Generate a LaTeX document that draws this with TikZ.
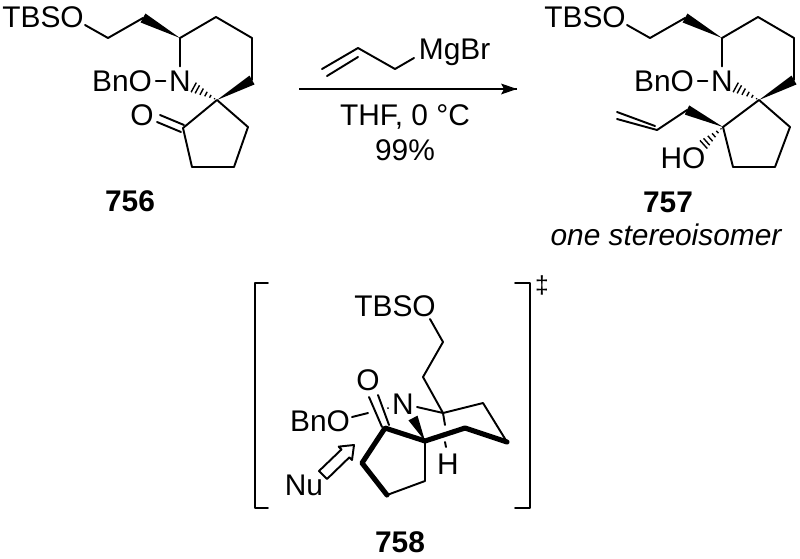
\documentclass[tikz,border=0pt]{standalone}
\usepackage{fontspec}
\setmainfont{Liberation Sans}
\usetikzlibrary{calc}
\tikzset{
	bond/.style={black,line width=1.1pt,line cap=round,line join=round},
	heavy/.style={black,line width=2.9pt,line cap=round,line join=round},
	atom/.style={inner sep=2pt,font=\fontsize{17}{20}\selectfont,text height=12.2pt,text depth=0pt},
	label/.style={inner sep=0pt,font=\fontsize{17}{20}\selectfont\bfseries},
}
\newcommand{\wedgebond}[3][2.9pt]{\fill [black] (#2) -- ($(#3)!#1!90:(#2)$) -- ($(#3)!#1!-90:(#2)$) -- cycle;}
\newcommand{\hashbond}[3][3.2pt]{
	\foreach \t in {0.1,0.28,0.46,0.64,0.82,0.97}{
		\coordinate (hh) at ($(#2)!\t!(#3)$);
		\draw [black,line width=0.8pt] ($(hh)!\t*#1!90:(#3)$) -- ($(hh)!\t*#1!-90:(#3)$);
	}
}
\newcommand{\topchain}{
	\node [atom] (tbso) at (43,-17) {TBSO};
	\node [atom] (bno) at (122,-81) {BnO};
	\node [atom] (n) at (180,-81) {N};
	\coordinate (oend) at (85,-25);
	\coordinate (c1) at (108,-38);
	\coordinate (c2) at (143,-18);
	\coordinate (c3) at (180,-38);
	\coordinate (c4) at (216,-17);
	\coordinate (c5) at (252,-38);
	\coordinate (c6) at (252,-80);
	\coordinate (spiro) at (217,-100);
	\coordinate (nhash) at (193,-87);
	\draw [bond] (oend) -- (c1) -- (c2);
	\draw [bond] (c3) -- (c4) -- (c5) -- (c6);
	\draw [bond] (c3) -- (n);
	\draw [bond] (bno) -- (n);
	\wedgebond{c3}{c2}
	\wedgebond{spiro}{c6}
	\hashbond{spiro}{nhash}
}
\begin{document}
\begin{tikzpicture}[x=0.02cm,y=0.02cm]
	\useasboundingbox (0,0) rectangle (800,-558);

	\begin{scope}[name prefix=sm-]
		\topchain
		\node [atom] (o) at (142,-115) {O};
		\coordinate (r1) at (183,-128);
		\coordinate (r2) at (192,-167);
		\coordinate (r3) at (234,-167);
		\coordinate (r4) at (248,-127);
		\coordinate (o1) at (160,-115);
		\coordinate (o2) at (184,-125);
		\coordinate (o3) at (157,-122);
		\coordinate (o4) at (181,-132);
		\draw [bond] (spiro) -- (r1) -- (r2) -- (r3) -- (r4) -- (spiro);
		\draw [bond] (o1) -- (o2);
		\draw [bond] (o3) -- (o4);
		\node [label] (lab756) at (130,-201) {756};
	\end{scope}

	\begin{scope}[shift={(542,0)},name prefix=pr-]
		\topchain
		\coordinate (r1) at (181,-127);
		\coordinate (r2) at (191,-167);
		\coordinate (r3) at (233,-167);
		\coordinate (r4) at (248,-127);
		\coordinate (a1) at (145,-110);
		\coordinate (a2) at (115,-130);
		\coordinate (a3) at (113,-126);
		\coordinate (a4) at (75,-112);
		\coordinate (a5) at (75,-119);
		\coordinate (ohash) at (161,-145);
		\node [atom] (ho) at (141,-158) {HO};
		\draw [bond] (spiro) -- (r1) -- (r2) -- (r3) -- (r4) -- (spiro);
		\draw [bond] (a1) -- (a2) -- (a5);
		\draw [bond] (a3) -- (a4);
		\wedgebond{r1}{a1}
		\hashbond{r1}{ohash}
		\node [label] (lab757) at (126,-202) {757};
		\node [inner sep=0pt,font=\fontsize{17}{20}\selectfont\itshape] (iso) at (124,-235) {one stereoisomer};
	\end{scope}

	\coordinate (arrowstart) at (299,-89);
	\coordinate (arrowend) at (517,-89);
	\draw [black,line width=1.1pt] (arrowstart) -- (arrowend);
	\fill [black] (arrowend) -- (501,-83.5) -- (504,-89) -- (501,-94.5) -- cycle;
	\node [atom,anchor=west] (mgbr) at (415,-49) {MgBr};
	\node [atom] (thf) at (405,-115) {THF, 0 °C};
	\node [atom] (yield) at (405,-150) {99\%};
	\coordinate (g1) at (322,-69);
	\coordinate (g2) at (358,-48);
	\coordinate (g3) at (395,-69);
	\coordinate (g4) at (414,-58);
	\coordinate (g5) at (327,-76);
	\coordinate (g6) at (358,-57);
	\draw [bond] (g1) -- (g2) -- (g3) -- (g4);
	\draw [bond] (g5) -- (g6);

	\draw [bond] (268,-283) -- (255,-283) -- (255,-508) -- (268,-508);
	\draw [bond] (515,-283) -- (530,-283) -- (530,-508) -- (515,-508);
	\node [inner sep=0pt,font=\fontsize{14}{16}\selectfont] (ddag) at (542,-285) {‡};

	\node [atom] (tbso) at (395,-306) {TBSO};
	\node [atom] (o) at (368,-380) {O};
	\node [atom] (n) at (403,-404) {N};
	\node [atom] (bno) at (320,-421) {BnO};
	\node [atom] (h) at (448,-464) {H};
	\node [atom] (nu) at (304,-485) {Nu};
	\node [label] (lab758) at (400,-542) {758};
	\coordinate (t1) at (430,-319);
	\coordinate (t2) at (443,-342);
	\coordinate (t3) at (423,-377);
	\coordinate (t4) at (443,-413);
	\coordinate (t5) at (483,-403);
	\coordinate (t6) at (507,-442);
	\coordinate (t7) at (465,-428);
	\coordinate (t8) at (425,-441);
	\coordinate (t9) at (385,-428);
	\coordinate (t10) at (362,-463);
	\coordinate (t11) at (387,-495);
	\coordinate (t12) at (425,-481);
	\coordinate (nwedge) at (413,-418);
	\coordinate (nbond) at (417,-407);
	\coordinate (obond) at (352,-417);
	\coordinate (oend) at (368,-413);
	\coordinate (dot) at (388,-408);
	\coordinate (hbond) at (445,-425);
	\coordinate (hdash) at (445,-442);
	\coordinate (hend) at (446,-447);
	\draw [bond] (t1) -- (t2) -- (t3) -- (t4) -- (t5) -- (t6);
	\draw [bond] (nbond) -- (t4) -- (hbond);
	\draw [bond] (obond) -- (oend);
	\fill [black] (dot) circle (1);
	\draw [heavy] (t6) -- (t7) -- (t8) -- (t9) -- (t10) -- (t11);
	\draw [bond] (t11) -- (t12) -- (t8);
	\draw [bond] (369,-397) -- (382,-427);
	\draw [bond] (378,-395) -- (389,-425);
	\wedgebond{t8}{nwedge}
	\draw [bond] (hdash) -- (hend);
	\draw [bond,fill=white] (319,-471) -- (327,-479) -- (349.3,-457.4) -- (352,-460) -- (354,-445) -- (338.7,-446.6) -- (341.5,-449.4) -- cycle;
\end{tikzpicture}
\end{document}
